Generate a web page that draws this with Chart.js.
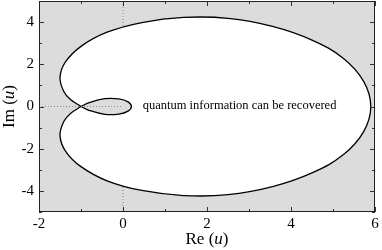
<!DOCTYPE html>
<html>
<head>
<meta charset="utf-8">
<script src="https://cdn.jsdelivr.net/npm/chart.js@4"></script>
<style>
  html, body { margin: 0; padding: 0; background: #fff; }
  canvas { display: block; }
</style>
</head>
<body>
<canvas id="chart" width="382" height="250"></canvas>
<script>
// outer loop of the curve (starts and ends at the crossing point)
const outerX = [-1.00, -1.25, -1.41, -1.50, -1.37, -1.00, -0.38, 0.45, 1.44, 2.50, 3.56, 4.50, 5.25, 5.73, 5.90,
                5.73, 5.25, 4.50, 3.56, 2.50, 1.44, 0.45, -0.38, -1.00, -1.37, -1.50, -1.41, -1.25, -1.00];
const outerY = [0.00, 0.33, 0.71, 1.38, 2.11, 2.85, 3.52, 3.98, 4.22, 4.18, 3.80, 3.15, 2.28, 1.19, 0.00,
                -1.19, -2.28, -3.15, -3.80, -4.18, -4.22, -3.98, -3.52, -2.85, -2.11, -1.38, -0.71, -0.33, 0.00];
// small inner loop
const innerX = [-1.00, -0.81, -0.43, -0.10, 0.12, 0.20, 0.12, -0.10, -0.43, -0.81, -1.00];
const innerY = [0.00, -0.18, -0.37, -0.36, -0.22, 0.00, 0.22, 0.36, 0.37, 0.18, 0.00];

const xTickLabels = [-2, 0, 2, 4, 6];
const yTickLabels = [-4, -2, 0, 2, 4];

const noteText = 'quantum information can be recovered';
const noteAt = [0.47, -0.12];

const serif = '"Liberation Serif", "DejaVu Serif", serif';
const pts = (xs, ys) => xs.map((x, i) => ({ x: x, y: ys[i] }));

const frame = {
  id: 'frame',
  beforeDatasetsDraw(chart) {
    const { ctx, chartArea: a } = chart;
    ctx.save();
    ctx.fillStyle = '#dcdcdc';
    ctx.fillRect(a.left, a.top, a.right - a.left, a.bottom - a.top);
    ctx.restore();
  },
  afterDatasetsDraw(chart) {
    const { ctx, chartArea: a, scales } = chart;
    const xs = scales.x, ys = scales.y;
    ctx.save();
    // inward ticks on all four sides
    ctx.strokeStyle = '#333';
    ctx.lineWidth = 1;
    ctx.beginPath();
    xs.ticks.forEach(t => {
      const p = Math.round(xs.getPixelForValue(t.value)) + 0.5;
      const len = t.value % 2 === 0 ? 5 : 3;
      ctx.moveTo(p, a.bottom); ctx.lineTo(p, a.bottom - len);
      ctx.moveTo(p, a.top); ctx.lineTo(p, a.top + len);
    });
    ys.ticks.forEach(t => {
      const p = Math.round(ys.getPixelForValue(t.value)) + 0.5;
      const len = t.value % 2 === 0 ? 5 : 3;
      ctx.moveTo(a.left, p); ctx.lineTo(a.left + len, p);
      ctx.moveTo(a.right, p); ctx.lineTo(a.right - len, p);
    });
    ctx.stroke();
    ctx.strokeStyle = '#222';
    ctx.strokeRect(a.left + 0.5, a.top + 0.5, a.right - a.left - 1, a.bottom - a.top - 1);

    // annotation
    ctx.fillStyle = '#000';
    ctx.font = '12.5px ' + serif;
    ctx.textAlign = 'left';
    ctx.textBaseline = 'alphabetic';
    ctx.fillText(noteText, xs.getPixelForValue(noteAt[0]), ys.getPixelForValue(noteAt[1]));

    // axis titles with italic u
    const title = (cx, cy, rot, name) => {
      ctx.save();
      ctx.translate(cx, cy);
      ctx.rotate(rot);
      const up = '17px ' + serif, it = 'italic 17px ' + serif;
      const parts = [[name + ' (', up], ['u', it], [')', up]];
      let w = 0;
      parts.forEach(p => { ctx.font = p[1]; w += ctx.measureText(p[0]).width; });
      let x = -w / 2;
      ctx.textBaseline = 'middle';
      ctx.textAlign = 'left';
      parts.forEach(p => { ctx.font = p[1]; ctx.fillText(p[0], x, 0); x += ctx.measureText(p[0]).width; });
      ctx.restore();
    };
    title((a.left + a.right) / 2, 240, 0, 'Re');
    title(10, (a.top + a.bottom) / 2, -Math.PI / 2, 'Im');
    ctx.restore();
  }
};

new Chart(document.getElementById('chart'), {
  type: 'scatter',
  data: {
    datasets: [
      { // horizontal zero line, on top
        data: [{ x: -2, y: 0 }, { x: 0, y: 0 }],
        showLine: true, borderColor: '#8a8a8a', borderWidth: 1, borderDash: [1, 2],
        pointRadius: 0, fill: false
      },
      {
        data: pts(innerX, innerY),
        showLine: true, borderColor: '#000', borderWidth: 1.3, tension: 0.4,
        pointRadius: 0, fill: 'shape', backgroundColor: '#dcdcdc'
      },
      {
        data: pts(outerX, outerY),
        showLine: true, borderColor: '#000', borderWidth: 1.3, tension: 0.4,
        pointRadius: 0, fill: 'shape', backgroundColor: '#ffffff'
      },
      { // vertical zero line, underneath the white region
        data: [{ x: 0, y: -5 }, { x: 0, y: 5 }],
        showLine: true, borderColor: '#8a8a8a', borderWidth: 1, borderDash: [1, 2],
        pointRadius: 0, fill: false
      }
    ]
  },
  options: {
    responsive: false,
    devicePixelRatio: 1,
    animation: false,
    layout: { padding: { top: 1, right: 7, left: 0, bottom: 0 } },
    plugins: { legend: { display: false }, tooltip: { enabled: false } },
    scales: {
      x: {
        type: 'linear', min: -2, max: 6,
        grid: { display: false, drawTicks: false }, border: { display: false },
        ticks: {
          stepSize: 1, autoSkip: false, maxRotation: 0, padding: 3, color: '#000',
          font: { family: serif, size: 15 },
          callback: v => xTickLabels.includes(v) ? String(v) : ''
        },
        afterFit: s => { s.height = 38; s.paddingLeft = 0; s.paddingRight = 0; }
      },
      y: {
        type: 'linear', min: -5, max: 5,
        grid: { display: false, drawTicks: false }, border: { display: false },
        ticks: {
          stepSize: 1, autoSkip: false, padding: 5, color: '#000',
          font: { family: serif, size: 15 },
          callback: v => yTickLabels.includes(v) ? String(v) : ''
        },
        afterFit: s => { s.width = 39; s.paddingTop = 0; s.paddingBottom = 0; }
      }
    }
  },
  plugins: [frame]
});
</script>
</body>
</html>
